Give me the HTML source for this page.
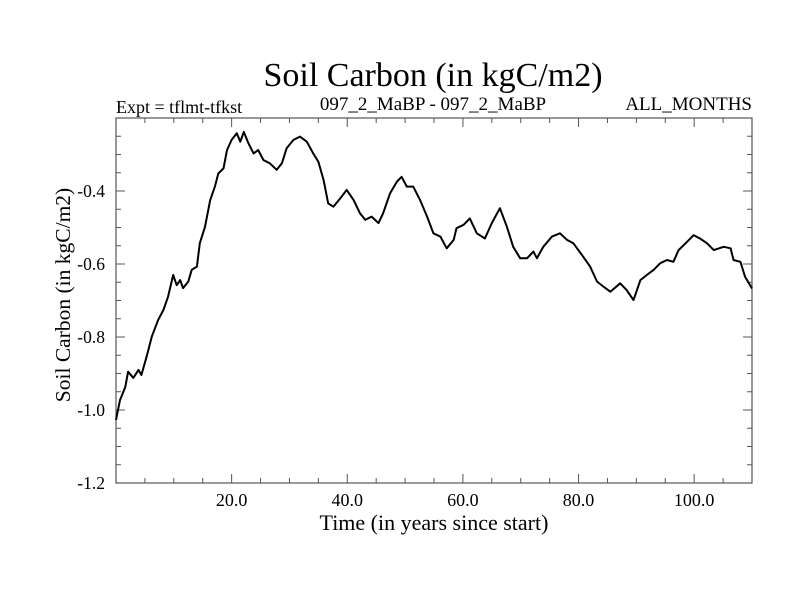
<!DOCTYPE html>
<html><head><meta charset="utf-8"><style>
html,body{margin:0;padding:0;background:#fff;}
svg{display:block;font-family:"Liberation Serif",serif;}
</style></head><body>
<svg id="chart" width="800" height="600" xmlns="http://www.w3.org/2000/svg">
<rect width="800" height="600" fill="#fff"/>
<text x="433" y="86" font-size="34" text-anchor="middle">Soil Carbon (in kgC/m2)</text>
<text x="116" y="113" font-size="18">Expt = tflmt-tfkst</text>
<text x="433" y="110" font-size="19" text-anchor="middle">097_2_MaBP - 097_2_MaBP</text>
<text x="752" y="110" font-size="19" text-anchor="end">ALL_MONTHS</text>
<text x="0" y="0" font-size="21.5" text-anchor="middle" transform="translate(70,295) rotate(-90)">Soil Carbon (in kgC/m2)</text>
<text x="434" y="530" font-size="22" text-anchor="middle">Time (in years since start)</text>
<g id="axes"></g>
<g id="plot"></g>
</svg>
<script>
const years = [0,0.7,1.6,2.1,3.0,3.9,4.4,5.3,6.2,7.3,8.2,9.0,9.9,10.5,11.1,11.6,12.5,13.1,14.0,14.5,15.4,16.3,17.1,17.7,18.6,19.2,20.0,20.9,21.5,22.1,22.9,23.8,24.6,25.5,26.6,27.8,28.7,29.5,30.7,31.8,33.0,34.1,35.0,35.9,36.7,37.6,38.8,39.9,41.1,42.2,43.1,44.2,45.4,46.2,47.4,48.6,49.4,50.3,51.4,52.6,53.8,54.9,56.1,57.2,58.4,58.9,60.1,61.2,62.4,63.8,65.0,66.4,67.6,68.7,69.9,71.1,72.2,72.8,73.9,75.4,76.8,78.0,79.1,80.8,82.0,83.2,84.3,85.5,87.2,88.3,89.5,90.7,91.8,93.0,94.1,95.3,96.4,97.3,98.8,99.9,101.0,102.2,103.4,105.1,106.3,106.8,108.0,108.8,110];
const carbon = [-1.027,-0.973,-0.937,-0.895,-0.912,-0.890,-0.904,-0.854,-0.799,-0.753,-0.726,-0.690,-0.630,-0.658,-0.644,-0.666,-0.648,-0.616,-0.607,-0.543,-0.498,-0.425,-0.388,-0.352,-0.338,-0.288,-0.260,-0.242,-0.265,-0.238,-0.269,-0.297,-0.288,-0.315,-0.324,-0.342,-0.324,-0.283,-0.260,-0.251,-0.265,-0.297,-0.320,-0.370,-0.434,-0.443,-0.420,-0.397,-0.425,-0.461,-0.479,-0.470,-0.488,-0.461,-0.406,-0.374,-0.361,-0.388,-0.388,-0.425,-0.470,-0.516,-0.525,-0.557,-0.534,-0.502,-0.493,-0.475,-0.516,-0.530,-0.488,-0.447,-0.498,-0.553,-0.584,-0.584,-0.566,-0.584,-0.553,-0.525,-0.516,-0.534,-0.543,-0.580,-0.607,-0.648,-0.662,-0.676,-0.653,-0.671,-0.699,-0.644,-0.630,-0.616,-0.598,-0.589,-0.594,-0.562,-0.539,-0.521,-0.530,-0.543,-0.562,-0.553,-0.557,-0.589,-0.594,-0.635,-0.667];
const xTicks = [20,40,60,80,100];
const xTickLabels = ["20.0","40.0","60.0","80.0","100.0"];
const yTicks = [-1.2,-1.0,-0.8,-0.6,-0.4];
const yTickLabels = ["-1.2","-1.0","-0.8","-0.6","-0.4"];
const xMin=0,xMax=110,yMin=-1.2,yMax=-0.2;
const L=116,R=752,T=118,B=483;
const xs=v=>L+(v-xMin)/(xMax-xMin)*(R-L);
const ys=v=>B-(v-yMin)/(yMax-yMin)*(B-T);
const NS="http://www.w3.org/2000/svg";
const axes=document.getElementById('axes'), plot=document.getElementById('plot');
function mk(tag,attrs,parent){const e=document.createElementNS(NS,tag);for(const k in attrs)e.setAttribute(k,attrs[k]);parent.appendChild(e);return e;}
const frame=mk('rect',{x:L,y:T,width:R-L,height:B-T,fill:'none',stroke:'#555','stroke-width':1.2},axes);


for(let v=5;v<xMax;v+=5){
  const major=v%20===0, len=major?9:5, x=xs(v);
  const t1=mk('line',{x1:x,x2:x,y1:B,y2:B-len,stroke:'#555','stroke-width':1},axes);
  
  
  const t2=mk('line',{x1:x,x2:x,y1:T,y2:T+len,stroke:'#555','stroke-width':1},axes);
  
  
}
for(let v=yMin+0.05;v<yMax-0.01;v+=0.05){
  const r=Math.round(v*100)/100; const major=Math.abs(Math.round(r*10)/10-r)<1e-6 && Math.round(r*10)%2===0;
  const len=major?9:5, y=ys(r);
  const t1=mk('line',{x1:L,x2:L+len,y1:y,y2:y,stroke:'#555','stroke-width':1},axes);
  
  
  const t2=mk('line',{x1:R,x2:R-len,y1:y,y2:y,stroke:'#555','stroke-width':1},axes);
  
  
}
xTicks.forEach((v,i)=>{
  const t=mk('text',{x:xs(v),y:B+23,'font-size':18,'text-anchor':'middle'},axes);
  t.textContent=xTickLabels[i];
  
  
});
yTicks.forEach((v,i)=>{
  const t=mk('text',{x:L-11,y:ys(v)+6,'font-size':17.5,'text-anchor':'end'},axes);
  t.textContent=yTickLabels[i];
  
  
});
const d=years.map((v,i)=>(i?'L':'M')+xs(v).toFixed(1)+','+ys(carbon[i]).toFixed(1)).join(' ');
const line=mk('path',{d:d,fill:'none',stroke:'#000','stroke-width':2,'stroke-linejoin':'round'},plot);


</script>
</body></html>
